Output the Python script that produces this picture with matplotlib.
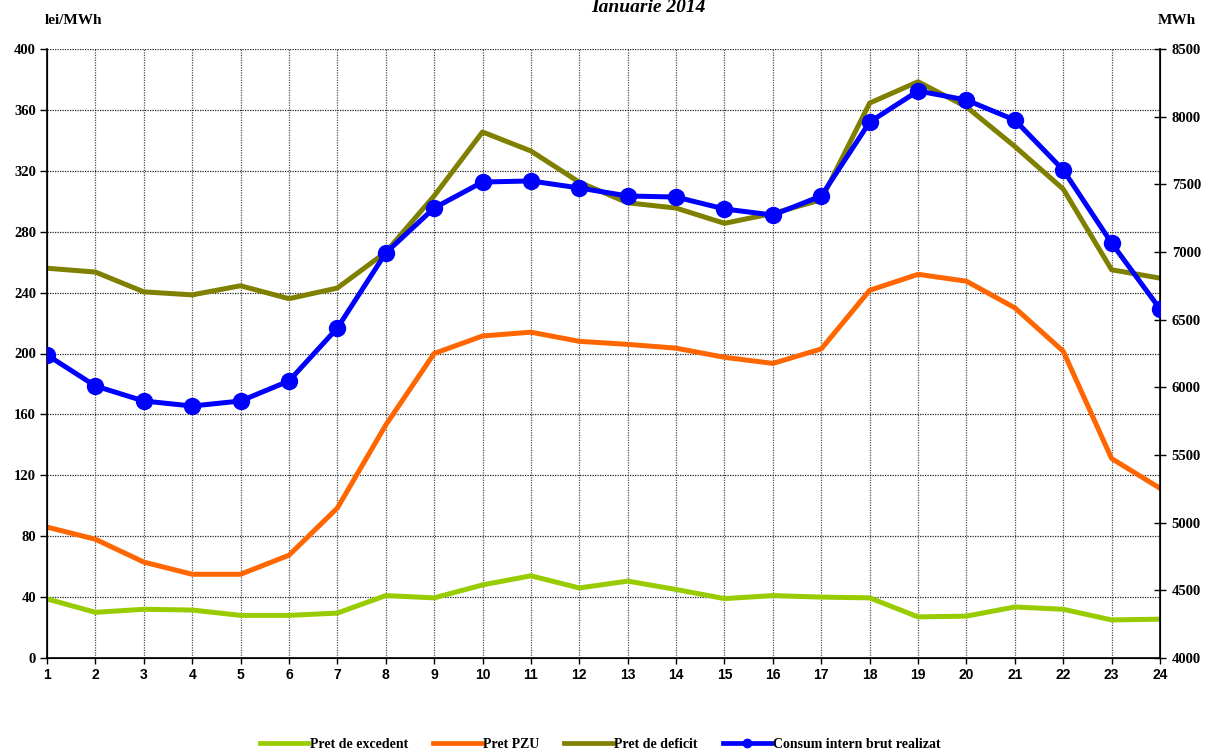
import matplotlib
matplotlib.use("Agg")
import matplotlib.pyplot as plt
from matplotlib.lines import Line2D

hours = list(range(1, 25))
pret_excedent = [38.8, 30, 32, 31.5, 28, 28, 29.5, 41, 39.5, 48, 54, 46, 50.5, 45, 39, 41, 40, 39.5, 27, 27.5, 33.5, 32, 25, 25.5]
pret_pzu = [86, 78, 63, 55, 55, 67.5, 98.5, 153, 200, 211.5, 214, 208, 206, 203.5, 197.5, 193.5, 203, 241.5, 252, 247.5, 230, 201.5, 131, 111.5]
pret_deficit = [256, 253.5, 240.5, 238.5, 244.5, 236, 243, 266.5, 303.5, 345.5, 333, 312.5, 299, 295.5, 285.5, 292, 301, 364.5, 378.5, 362, 336, 308, 255, 249.5]
consum = [6239, 6010, 5899, 5862, 5899, 6047, 6438, 6993, 7325, 7517, 7525, 7473, 7414, 7406, 7318, 7273, 7414, 7960, 8190, 8123, 7975, 7606, 7066, 6579]

left_ticks = list(range(0, 401, 40))
right_ticks = list(range(4000, 8501, 500))
labels = ["Pret de excedent", "Pret PZU", "Pret de deficit", "Consum intern brut realizat"]
colors = ["#99CC00", "#FF6600", "#808000", "#0000FF"]

serif = ["Liberation Serif", "DejaVu Serif"]
sans = ["Liberation Sans", "DejaVu Sans"]

fig = plt.figure(figsize=(12.06, 7.51), dpi=100)
ax = fig.add_axes([47/1206, 1-658/751, (1160-47)/1206, (658-49)/751])
ax2 = ax.twinx()

lw = 3.6
ax.plot(hours, pret_excedent, color=colors[0], lw=lw, zorder=3)
ax.plot(hours, pret_pzu, color=colors[1], lw=lw, zorder=3)
ax.plot(hours, pret_deficit, color=colors[2], lw=lw, zorder=3)
ax2.plot(hours, consum, color=colors[3], lw=lw, marker="o", markersize=11.5, zorder=4)

ax.set_xlim(1, 24)
ax.set_ylim(0, 400)
ax2.set_ylim(4000, 8500)
ax.set_xticks(hours)
ax.set_yticks(left_ticks)
ax2.set_yticks(right_ticks)

ax.grid(True, axis="y", color="#222222", linestyle=(0, (1, 1)), linewidth=0.9)
ax.grid(True, axis="x", color="#555555", linestyle=(0, (1, 1)), linewidth=0.9)
ax.set_axisbelow(True)

ax.spines["top"].set_visible(False)
ax2.spines["top"].set_visible(False)
ax.spines["left"].set_linewidth(1.2)
ax.spines["bottom"].set_linewidth(1.2)
ax2.spines["right"].set_linewidth(1.2)

ax.tick_params(axis="y", direction="out", length=5, width=1, pad=3)
ax.tick_params(axis="x", direction="out", length=4, width=1, pad=3)
ax2.tick_params(axis="y", direction="inout", length=9, width=1, pad=4)

for t in ax.get_yticklabels():
    t.set_fontfamily(serif); t.set_fontweight("bold"); t.set_fontsize(10.5)
for t in ax2.get_yticklabels():
    t.set_fontfamily(serif); t.set_fontweight("bold"); t.set_fontsize(10.5)
for t in ax.get_xticklabels():
    t.set_fontfamily(sans); t.set_fontweight("bold"); t.set_fontsize(10)

fig.text(648/1206, 1-8/751, "Ianuarie 2014", ha="center", va="center",
         fontfamily=serif, fontweight="bold", fontstyle="italic", fontsize=14)
fig.text(45/1206, 1-21/751, "lei/MWh", ha="left", va="center",
         fontfamily=serif, fontweight="bold", fontsize=11)
fig.text(1196/1206, 1-20/751, "MWh", ha="right", va="center",
         fontfamily=serif, fontweight="bold", fontsize=11)

handles = [
    Line2D([], [], color=colors[0], lw=3.4),
    Line2D([], [], color=colors[1], lw=3.4),
    Line2D([], [], color=colors[2], lw=3.4),
    Line2D([], [], color=colors[3], lw=3.4, marker="o", markersize=6),
]
leg = fig.legend(handles, labels, loc="center", bbox_to_anchor=(600/1206, 1-744/751),
                 ncol=4, frameon=False, handlelength=3.5, handletextpad=0.1,
                 columnspacing=1.8, prop={"family": serif, "weight": "bold", "size": 10})

fig.savefig("out.png", dpi=100)
